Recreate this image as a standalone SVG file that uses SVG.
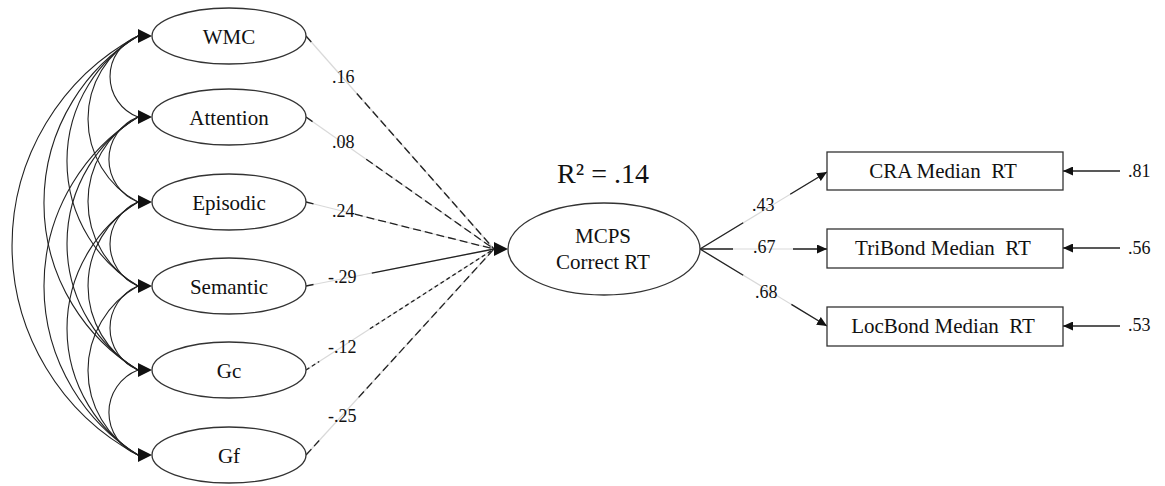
<svg xmlns="http://www.w3.org/2000/svg" xmlns:xlink="http://www.w3.org/1999/xlink" width="1165" height="486" viewBox="0 0 1165 486">
<style>
text{font-family:"Liberation Serif","Times New Roman",serif;fill:#111}
.nt{font-size:21px;text-anchor:middle}
.lbl{font-size:18px}
.r2{font-size:28px;text-anchor:middle}
.el{fill:#fff;stroke:#333;stroke-width:1.3}
.bx{fill:#fff;stroke:#333;stroke-width:1.3}
.cov{fill:none;stroke:#222;stroke-width:1.1}
.faint{fill:none;stroke:#d9d9d9;stroke-width:1.2}
.dk{fill:none;stroke:#222;stroke-width:1.3}
.dl{stroke-dasharray:8 4}
.ds{stroke-dasharray:4 3}
.ah{fill:#111}
</style>
<defs>
<polygon id="ah" points="-14,-7 0,0 -14,7"/>
<marker id="sa" markerUnits="userSpaceOnUse" markerWidth="10" markerHeight="9" refX="10" refY="4.5" orient="auto">
<path d="M0,0 L10,4.5 L0,9 z" fill="#111"/>
</marker>
</defs>
<g id="connectors">
<g id="covariances">
<path class="cov" d="M138,36 A43.3,43.3 0 0 0 138,117"/>
<path class="cov" d="M138,36 A93.9,93.9 0 0 0 138,202"/>
<path class="cov" d="M138,36 A145.5,145.5 0 0 0 138,286"/>
<path class="cov" d="M138,36 A195.3,195.3 0 0 0 138,370"/>
<path class="cov" d="M138,36 A237.2,237.2 0 0 0 138,455"/>
<path class="cov" d="M138,117 A45.6,45.6 0 0 0 138,202"/>
<path class="cov" d="M138,117 A96.4,96.4 0 0 0 138,286"/>
<path class="cov" d="M138,117 A148.2,148.2 0 0 0 138,370"/>
<path class="cov" d="M138,117 A198.9,198.9 0 0 0 138,455"/>
<path class="cov" d="M138,202 A45.5,45.5 0 0 0 138,286"/>
<path class="cov" d="M138,202 A95.6,95.6 0 0 0 138,370"/>
<path class="cov" d="M138,202 A148.2,148.2 0 0 0 138,455"/>
<path class="cov" d="M138,286 A45.5,45.5 0 0 0 138,370"/>
<path class="cov" d="M138,286 A96.4,96.4 0 0 0 138,455"/>
<path class="cov" d="M138,370 A45.6,45.6 0 0 0 138,455"/>
<use href="#ah" class="ah" x="152" y="36"/>
<use href="#ah" class="ah" x="152" y="117"/>
<use href="#ah" class="ah" x="152" y="202"/>
<use href="#ah" class="ah" x="152" y="286"/>
<use href="#ah" class="ah" x="152" y="370"/>
<use href="#ah" class="ah" x="152" y="455"/>
</g>
<g id="paths-in">
<line class="faint" x1="306" y1="36" x2="494" y2="249"/>
<line class="faint" x1="306" y1="117" x2="494" y2="249"/>
<line class="faint" x1="306" y1="202" x2="494" y2="249"/>
<line class="faint" x1="306" y1="286" x2="494" y2="249"/>
<line class="faint" x1="306" y1="370" x2="494" y2="249"/>
<line class="faint" x1="306" y1="455" x2="494" y2="249"/>
<path class="dk dl" d="M306,36 L313.5,44.5 M356.8,93.5 L494,249"/>
<path class="dk dl" d="M306,117 L313.5,122.3 M366.2,159.2 L494,249"/>
<path class="dk dl" d="M306,202 L313.5,203.9 M354.9,214.2 L494,249"/>
<path class="dk" d="M306,286 L313.5,284.5 M371.8,273.1 L494,249"/>
<path class="dk ds" d="M306,370 L319.2,361.5 M369.9,328.8 L494,249"/>
<path class="dk dl" d="M306,455 L319.2,440.5 M358.6,397.4 L494,249"/>
<use href="#ah" class="ah" x="508" y="249"/>
<text class="lbl" x="332" y="83">.16</text>
<text class="lbl" x="332" y="148">.08</text>
<text class="lbl" x="332" y="217">.24</text>
<text class="lbl" x="328" y="283">-.29</text>
<text class="lbl" x="328" y="353">-.12</text>
<text class="lbl" x="328" y="422">-.25</text>
</g>
<g id="paths-out">
<line class="faint" x1="700" y1="249" x2="827" y2="172"/>
<line class="faint" x1="700" y1="249" x2="827" y2="249"/>
<line class="faint" x1="700" y1="249" x2="827" y2="326"/>
<path class="dk" d="M700,249 L743.2,222.8 M790.2,194.3 L827,172" marker-end="url(#sa)"/>
<path class="dk" d="M700,249 L733,249 M793,249 L827,249" marker-end="url(#sa)"/>
<path class="dk" d="M700,249 L743.2,275.2 M791.4,304.4 L827,326" marker-end="url(#sa)"/>
<text class="lbl" x="752" y="211">.43</text>
<text class="lbl" x="753" y="253">.67</text>
<text class="lbl" x="755" y="298">.68</text>
</g>
<g id="residuals">
<line class="dk" x1="1120" y1="171" x2="1063" y2="171" marker-end="url(#sa)"/>
<line class="dk" x1="1120" y1="248" x2="1063" y2="248" marker-end="url(#sa)"/>
<line class="dk" x1="1120" y1="326" x2="1063" y2="326" marker-end="url(#sa)"/>
<text class="lbl" x="1128" y="177">.81</text>
<text class="lbl" x="1128" y="254">.56</text>
<text class="lbl" x="1128" y="331">.53</text>
</g>
</g>
<g id="WMC"><ellipse class="el" cx="229" cy="36" rx="77" ry="28"/><text class="nt" x="229" y="44">WMC</text></g>
<g id="Attention"><ellipse class="el" cx="229" cy="117" rx="77" ry="28"/><text class="nt" x="229" y="125">Attention</text></g>
<g id="Episodic"><ellipse class="el" cx="229" cy="202" rx="77" ry="28"/><text class="nt" x="229" y="210">Episodic</text></g>
<g id="Semantic"><ellipse class="el" cx="229" cy="286" rx="77" ry="28"/><text class="nt" x="229" y="294">Semantic</text></g>
<g id="Gc"><ellipse class="el" cx="229" cy="370" rx="77" ry="28"/><text class="nt" x="229" y="378">Gc</text></g>
<g id="Gf"><ellipse class="el" cx="229" cy="455" rx="77" ry="28"/><text class="nt" x="229" y="463">Gf</text></g>
<g id="MCPS">
<text class="r2" x="603" y="183">R² = .14</text>
<ellipse class="el" cx="604" cy="249" rx="96" ry="46"/>
<text class="nt" x="603" y="243">MCPS</text>
<text class="nt" x="603" y="269">Correct RT</text>
</g>
<g id="CRA"><rect class="bx" x="827" y="152" width="236" height="38"/><text class="nt" x="943" y="178">CRA Median&#160; RT</text></g>
<g id="TriBond"><rect class="bx" x="827" y="229" width="236" height="39"/><text class="nt" x="943" y="255">TriBond Median&#160; RT</text></g>
<g id="LocBond"><rect class="bx" x="827" y="307" width="236" height="39"/><text class="nt" x="943" y="333">LocBond Median&#160; RT</text></g>
</svg>
